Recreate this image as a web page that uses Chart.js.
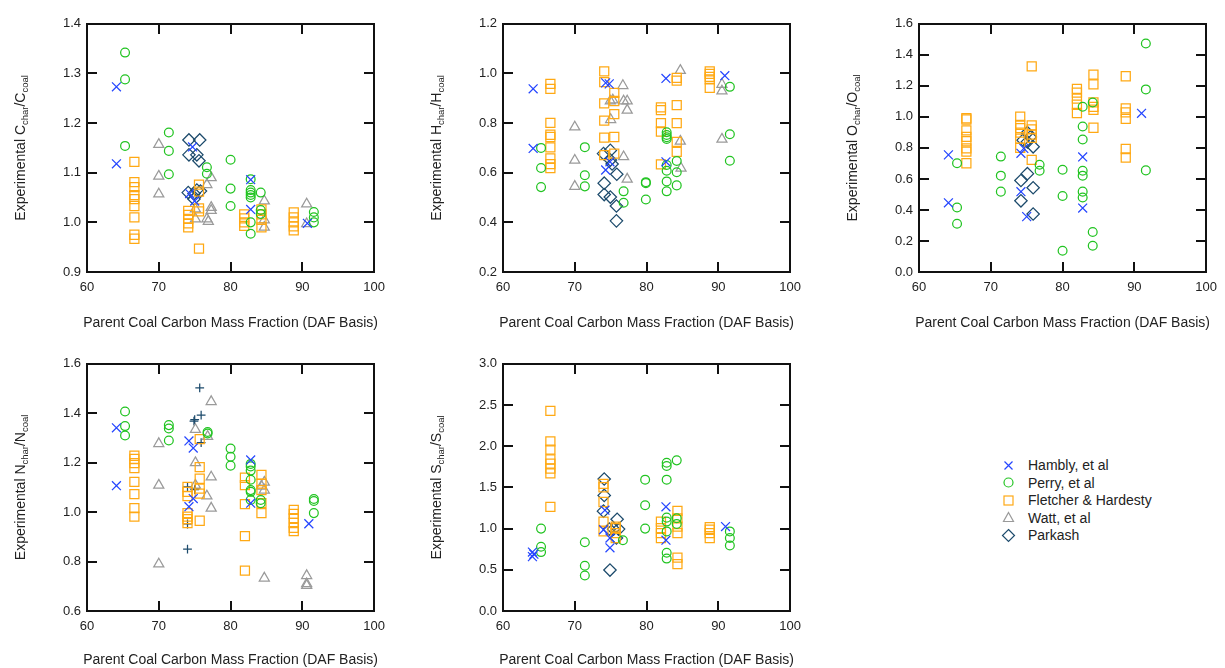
<!DOCTYPE html>
<html>
<head>
<meta charset="utf-8">
<script src="https://cdn.jsdelivr.net/npm/chart.js@4.4.1/dist/chart.umd.min.js"></script>
<style>
body{margin:0;background:#fff;overflow:hidden;font-family:"Liberation Sans",Arial,sans-serif}
canvas{position:absolute}
#legend{position:absolute;left:1001px;top:457px;font-size:14px;color:#222}
#legend div{height:17.5px;line-height:17.5px;white-space:nowrap}
#legend svg{vertical-align:middle;margin-right:12px;margin-top:-2px}
</style>
</head>
<body>
<canvas id="pC"></canvas>
<canvas id="pH"></canvas>
<canvas id="pO"></canvas>
<canvas id="pN"></canvas>
<canvas id="pS"></canvas>
<div id="legend"></div>
<script>
// x = parent coal carbon mass fraction (DAF), y = char/coal ratio

// --- Carbon
const hamblyC = [[64.1,1.273],[64.1,1.118],[74.7,1.152],[74.3,1.058],[75.0,1.043],[82.8,1.086],[82.8,1.026],[90.7,0.998]];
const perryC = [[65.3,1.342],[65.3,1.288],[65.3,1.154],[71.4,1.181],[71.4,1.144],[71.4,1.097],[76.7,1.111],[76.7,1.098],[80,1.126],[80,1.068],[80,1.033],[82.8,1.087],[82.8,1.065],[82.8,1.06],[82.8,1.055],[82.8,1.05],[82.8,1.0],[82.8,0.977],[84.2,1.06],[84.2,1.025],[84.2,1.017],[91.6,1.021],[91.6,1.01],[91.6,1.0]];
const fletcherC = [[66.6,1.122],[66.6,1.081],[66.6,1.071],[66.6,1.055],[66.6,1.047],[66.6,1.033],[66.6,1.01],[66.6,0.975],[66.6,0.967],[74.1,1.023],[74.1,1.015],[74.1,1.007],[74.1,0.998],[74.1,0.99],[75.6,1.076],[75.6,1.062],[75.6,1.028],[75.6,1.022],[75.6,0.947],[81.9,1.016],[81.9,1.008],[81.9,1.0],[81.9,0.993],[84.3,1.026],[84.3,1.016],[84.3,1.005],[84.3,0.99],[88.8,1.02],[88.8,1.01],[88.8,1.0],[88.8,0.992],[88.8,0.984]];
const wattC = [[70,1.157],[70,1.093],[70,1.057],[75.1,1.027],[75.1,1.007],[76.7,1.076],[76.7,1.007],[76.9,1.002],[77.3,1.09],[77.3,1.03],[77.3,1.024],[84.7,1.043],[84.7,1.005],[84.7,0.99],[90.6,1.037],[90.6,0.997]];
const parkashC = [[74.2,1.166],[75.7,1.166],[74.2,1.136],[75.3,1.136],[75.6,1.124],[74.1,1.06],[74.9,1.058],[75.8,1.063],[74.9,1.047],[75.3,1.065]];

// --- Hydrogen
const hamblyH = [[64.2,0.938],[64.2,0.698],[74.3,0.962],[74.8,0.958],[74.3,0.611],[74.9,0.644],[82.7,0.98],[82.7,0.644],[90.9,0.991]];
const perryH = [[65.3,0.70],[65.3,0.619],[65.3,0.542],[71.4,0.703],[71.4,0.59],[71.4,0.545],[76.8,0.525],[76.8,0.479],[79.9,0.562],[79.9,0.558],[79.9,0.492],[82.8,0.763],[82.8,0.752],[82.8,0.743],[82.8,0.736],[82.8,0.631],[82.8,0.608],[82.8,0.565],[82.8,0.525],[84.2,0.647],[84.2,0.602],[84.2,0.549],[91.6,0.946],[91.6,0.755],[91.6,0.648]];
const fletcherH = [[66.6,0.958],[66.6,0.938],[66.6,0.801],[66.6,0.753],[66.6,0.744],[66.6,0.702],[66.6,0.658],[66.6,0.635],[66.6,0.619],[74.1,1.008],[74.1,0.965],[74.1,0.879],[74.1,0.81],[74.1,0.741],[74.1,0.671],[75.5,0.922],[75.5,0.889],[75.5,0.836],[75.5,0.744],[75.5,0.677],[82,0.863],[82,0.852],[82,0.8],[82,0.766],[82,0.634],[84.2,0.982],[84.2,0.971],[84.2,0.872],[84.2,0.8],[84.2,0.724],[84.2,0.684],[88.8,1.008],[88.8,0.998],[88.8,0.986],[88.8,0.976],[88.8,0.942]];
const wattH = [[70,0.784],[70,0.65],[70,0.545],[75.0,0.814],[74.95,0.889],[75.3,0.893],[76.7,0.951],[76.8,0.664],[76.8,0.889],[77.3,0.889],[77.3,0.852],[77.3,0.574],[84.7,1.012],[84.7,0.727],[84.8,0.618],[90.5,0.956],[90.5,0.929],[90.5,0.735]];
const parkashH = [[74.0,0.677],[74.95,0.69],[74.95,0.651],[75.85,0.594],[74.1,0.558],[74.1,0.512],[74.95,0.502],[75.8,0.466],[75.8,0.406],[75.2,0.635]];

// --- Oxygen
const hamblyO = [[64.1,0.755],[64.1,0.446],[74.2,0.765],[74.6,0.797],[74.2,0.518],[75,0.357],[82.8,0.742],[82.8,0.412],[91,1.023]];
const perryO = [[65.3,0.701],[65.3,0.416],[65.3,0.311],[71.4,0.744],[71.4,0.621],[71.4,0.518],[76.8,0.691],[76.8,0.653],[80,0.659],[80,0.49],[80,0.137],[82.8,1.065],[82.8,0.938],[82.8,0.854],[82.8,0.653],[82.8,0.621],[82.8,0.518],[82.8,0.48],[84.2,1.093],[84.2,0.258],[84.2,0.169],[91.6,1.473],[91.6,1.177],[91.6,0.655]];
const fletcherO = [[66.6,0.991],[66.6,0.983],[66.6,0.913],[66.6,0.871],[66.6,0.843],[66.6,0.797],[66.6,0.776],[66.6,0.701],[74.1,1.002],[74.1,0.949],[74.1,0.928],[74.1,0.898],[74.1,0.86],[74.1,0.8],[75.7,1.325],[75.7,0.945],[75.7,0.92],[75.7,0.886],[75.7,0.864],[75.7,0.723],[82,1.181],[82,1.156],[82,1.118],[82,1.078],[82,1.025],[84.3,1.272],[84.3,1.209],[84.3,1.093],[84.3,1.065],[84.3,1.046],[84.3,0.93],[88.8,1.262],[88.8,1.055],[88.8,1.029],[88.8,0.987],[88.8,0.793],[88.8,0.738]];
const parkashO = [[75.1,0.898],[74.5,0.85],[75.1,0.839],[75.9,0.807],[74.2,0.59],[75.1,0.634],[75.9,0.543],[74.2,0.459],[75.9,0.374],[75.5,0.87]];

// --- Nitrogen
const hamblyN = [[64.1,1.341],[64.1,1.107],[74.2,1.288],[74.8,1.259],[74.2,1.022],[74.8,1.055],[82.8,1.211],[82.8,1.036],[90.9,0.953]];
const perryN = [[65.3,1.407],[65.3,1.348],[65.3,1.31],[71.4,1.352],[71.4,1.338],[71.4,1.29],[76.8,1.324],[76.8,1.318],[80,1.257],[80,1.224],[80,1.188],[82.8,1.195],[82.8,1.185],[82.8,1.168],[82.8,1.131],[82.8,1.089],[82.8,1.082],[82.8,1.049],[84.2,1.049],[84.2,1.036],[91.6,1.053],[91.6,1.045],[91.6,0.996]];
const fletcherN = [[66.6,1.228],[66.6,1.215],[66.6,1.198],[66.6,1.178],[66.6,1.122],[66.6,1.073],[66.6,1.016],[66.6,0.982],[74,1.102],[74,1.082],[74,1.065],[74,0.996],[74,0.982],[74,0.972],[74,0.956],[75.7,1.295],[75.7,1.182],[75.7,1.135],[75.7,1.095],[75.7,1.075],[75.7,0.965],[82,1.139],[82,1.109],[82,1.032],[82,0.903],[82,0.763],[84.3,1.151],[84.3,1.115],[84.3,1.089],[84.3,1.036],[84.3,0.996],[88.8,1.009],[88.8,0.993],[88.8,0.976],[88.8,0.956],[88.8,0.936],[88.8,0.923]];
const wattN = [[70,1.277],[70,1.109],[70,0.79],[75.1,1.334],[75.1,1.2],[75.1,1.109],[76.7,1.065],[76.8,1.306],[77.3,1.447],[77.3,1.142],[77.3,1.016],[84.7,1.121],[84.7,1.089],[84.3,1.105],[84.7,0.733],[90.6,0.743],[90.6,0.71],[90.6,0.703]];
const parkashN = [[75.7,1.503],[75.9,1.392],[74.9,1.368],[75.0,1.374],[75.9,1.281],[74,1.102],[75.1,1.095],[75.0,1.091],[74,0.952],[74,0.85]];

// --- Sulfur
const hamblyS = [[64.1,0.715],[64.1,0.66],[64.3,0.69],[74.2,1.224],[74,0.986],[74.9,0.886],[74.9,0.767],[82.7,1.264],[82.7,0.859],[91,1.025]];
const perryS = [[65.3,1.0],[65.3,0.78],[65.3,0.715],[71.4,0.835],[71.4,0.549],[71.4,0.43],[76.7,0.859],[79.8,1.594],[79.8,1.284],[79.8,1.0],[82.8,1.8],[82.8,1.76],[82.8,1.594],[82.8,1.133],[82.8,1.085],[82.8,0.966],[82.8,0.707],[82.8,0.636],[84.2,1.828],[84.2,1.125],[84.2,1.057],[91.6,0.966],[91.6,0.886],[91.6,0.795]];
const fletcherS = [[66.6,2.428],[66.6,2.058],[66.6,1.959],[66.6,1.84],[66.6,1.788],[66.6,1.729],[66.6,1.669],[66.6,1.264],[74,1.542],[74,1.502],[74,1.323],[74,1.085],[74,0.966],[75.7,1.025],[75.7,1.006],[75.7,0.946],[75.7,0.886],[82,1.085],[82,1.006],[82,0.946],[82,0.886],[84.3,1.216],[84.3,1.125],[84.3,1.025],[84.3,0.946],[84.3,0.648],[84.3,0.568],[88.8,1.018],[88.8,0.986],[88.8,0.946],[88.8,0.886]];
const parkashS = [[74.1,1.602],[74.1,1.403],[74,1.212],[74.8,0.994],[75.4,0.994],[76.1,0.994],[75.9,1.113],[75.8,0.886],[74.9,0.497]];

const xTicks = [60, 70, 80, 90, 100];
const seriesNames = ['Hambly, et al', 'Perry, et al', 'Fletcher & Hardesty', 'Watt, et al', 'Parkash'];

const looks = {
	hambly:   {style: 'crossRot', color: '#2546ff', r: 6.3},
	perry:    {style: 'circle',   color: '#22c422', r: 4.4},
	fletcher: {style: 'rect',     color: '#ffa914', r: 6.4},
	watt:     {style: 'triangle', color: '#9a9a9a', r: 5.8},
	parkash:  {style: 'rectRot',  color: '#1d4b6c', r: 6.2},
	plus:     {style: 'cross',    color: '#1d4b6c', r: 4.4}
};

function ds(name, pts, look) {
	return {
		label: name,
		data: pts.map(p => ({x: p[0], y: p[1]})),
		pointStyle: look.style,
		pointRadius: look.r,
		pointHoverRadius: look.r,
		borderColor: look.color,
		backgroundColor: 'rgba(0,0,0,0)',
		pointBorderWidth: 1.25,
		showLine: false
	};
}

// plot boxes in page pixels
const panels = [
	{id: 'pC', el: 'C', L: 87,  T: 20,  R: 381, B: 272, min: 0.9, max: 1.4, step: 0.1,
	 sets: [[hamblyC, 'hambly'], [perryC, 'perry'], [fletcherC, 'fletcher'], [wattC, 'watt'], [parkashC, 'parkash']]},
	{id: 'pH', el: 'H', L: 503, T: 20,  R: 797, B: 272, min: 0.2, max: 1.2, step: 0.2,
	 sets: [[hamblyH, 'hambly'], [perryH, 'perry'], [fletcherH, 'fletcher'], [wattH, 'watt'], [parkashH, 'parkash']]},
	{id: 'pO', el: 'O', L: 919, T: 20,  R: 1213, B: 272, min: 0, max: 1.6, step: 0.2,
	 sets: [[hamblyO, 'hambly'], [perryO, 'perry'], [fletcherO, 'fletcher'], [parkashO, 'parkash']]},
	{id: 'pN', el: 'N', L: 87,  T: 360, R: 381, B: 611, min: 0.6, max: 1.6, step: 0.2,
	 sets: [[hamblyN, 'hambly'], [perryN, 'perry'], [fletcherN, 'fletcher'], [wattN, 'watt'], [parkashN, 'plus']]},
	{id: 'pS', el: 'S', L: 503, T: 360, R: 797, B: 611, min: 0, max: 3.0, step: 0.5,
	 sets: [[hamblyS, 'hambly'], [perryS, 'perry'], [fletcherS, 'fletcher'], [parkashS, 'parkash']]}
];

const FONT = '"Liberation Sans", Arial, sans-serif';
const PADL = 80, PADT = 10, PADR = 12, PADB = 62;

// box, inward ticks on all sides and axis titles
const framePlugin = {
	id: 'frame',
	afterDraw(chart, args, opts) {
		const ctx = chart.ctx, a = chart.chartArea;
		const xs = chart.scales.x, ys = chart.scales.y;
		ctx.save();
		ctx.fillStyle = '#111';
		const lw = 2, tl = 10;
		const L = Math.round(a.left), R = Math.round(a.right), T = Math.round(a.top), B = Math.round(a.bottom);
		// frame
		ctx.fillRect(L - 1, T - 1, R - L + 2, lw);
		ctx.fillRect(L - 1, B - 1, R - L + 2, lw);
		ctx.fillRect(L - 1, T - 1, lw, B - T + 2);
		ctx.fillRect(R - 1, T - 1, lw, B - T + 2);
		// ticks pointing inwards
		for (let i = 1; i < xTicks.length - 1; i++) {
			const px = Math.round(xs.getPixelForValue(xTicks[i]));
			ctx.fillRect(px - 1, B - tl, lw, tl);
			ctx.fillRect(px - 1, T, lw, tl);
		}
		const n = Math.round((opts.max - opts.min) / opts.step);
		for (let i = 1; i < n; i++) {
			const py = Math.round(ys.getPixelForValue(opts.min + i * opts.step));
			ctx.fillRect(L, py - 1, tl, lw);
			ctx.fillRect(R - tl, py - 1, tl, lw);
		}
		ctx.fillStyle = '#222';
		ctx.textAlign = 'center';
		ctx.textBaseline = 'middle';
		ctx.font = '14px ' + FONT;
		ctx.fillText('Parent Coal Carbon Mass Fraction (DAF Basis)', (a.left + a.right) / 2, a.bottom + opts.xTitleGap);

		// y title with subscripts
		const el = opts.el;
		const parts = [['Experimental ' + el, 14, 0], ['char', 9.5, 3], ['/' + el, 14, 0], ['coal', 9.5, 3]];
		let total = 0;
		parts.forEach(p => { ctx.font = p[1] + 'px ' + FONT; p.push(ctx.measureText(p[0]).width); total += p[3]; });
		ctx.translate(a.left - 67, (a.top + a.bottom) / 2);
		ctx.rotate(-Math.PI / 2);
		ctx.textAlign = 'left';
		ctx.textBaseline = 'alphabetic';
		let cx = -total / 2;
		parts.forEach(p => {
			ctx.font = p[1] + 'px ' + FONT;
			ctx.fillText(p[0], cx, 5 + p[2]);
			cx += p[3];
		});
		ctx.restore();
	}
};

panels.forEach(p => {
	const cv = document.getElementById(p.id);
	const w = p.R - p.L + PADL + PADR, h = p.B - p.T + PADT + PADB;
	cv.width = w; cv.height = h;
	cv.style.left = (p.L - PADL) + 'px';
	cv.style.top = (p.T - PADT) + 'px';
	cv.style.width = w + 'px'; cv.style.height = h + 'px';

	new Chart(cv, {
		type: 'scatter',
		data: {datasets: p.sets.map(s => ds(s[1], s[0], looks[s[1]]))},
		plugins: [framePlugin],
		options: {
			responsive: false,
			animation: false,
			devicePixelRatio: 1,
			layout: {padding: {left: 0, top: PADT, right: PADR, bottom: 0}},
			plugins: {
				legend: {display: false},
				tooltip: {enabled: false},
				frame: {el: p.el, min: p.min, max: p.max, step: p.step, xTitleGap: p.T < 100 ? 51 : 49}
			},
			scales: {
				x: {
					type: 'linear', min: xTicks[0], max: xTicks[xTicks.length - 1],
					afterBuildTicks: s => { s.ticks = xTicks.map(v => ({value: v})); },
					afterFit: s => { s.height = PADB; },
					grid: {display: false, drawTicks: false},
					border: {display: false},
					ticks: {color: '#222', font: {family: FONT, size: 13}, padding: 8, maxRotation: 0}
				},
				y: {
					type: 'linear', min: p.min, max: p.max,
					ticks: {stepSize: p.step, color: '#222', font: {family: FONT, size: 13}, padding: 6,
						callback: v => v.toFixed(1)},
					afterFit: s => { s.width = PADL; },
					grid: {display: false, drawTicks: false},
					border: {display: false}
				}
			}
		}
	});
});

// legend
const legendKeys = ['hambly', 'perry', 'fletcher', 'watt', 'parkash'];
function markerSvg(k) {
	const c = looks[k].color;
	let shape = '';
	if (k === 'hambly') shape = `<path d="M3.5 3.5L11.5 11.5M11.5 3.5L3.5 11.5"/>`;
	if (k === 'perry') shape = `<circle cx="7.5" cy="7.5" r="4.5"/>`;
	if (k === 'fletcher') shape = `<rect x="3" y="3" width="9" height="9"/>`;
	if (k === 'watt') shape = `<path d="M7.5 2.5L12.5 11.5L2.5 11.5Z"/>`;
	if (k === 'parkash') shape = `<path d="M7.5 1.5L13.5 7.5L7.5 13.5L1.5 7.5Z"/>`;
	return `<svg width="15" height="15"><g stroke="${c}" stroke-width="1.2" fill="none">${shape}</g></svg>`;
}
document.getElementById('legend').innerHTML = legendKeys.map((k, i) =>
	`<div>${markerSvg(k)}${seriesNames[i]}</div>`).join('');
</script>
</body>
</html>
